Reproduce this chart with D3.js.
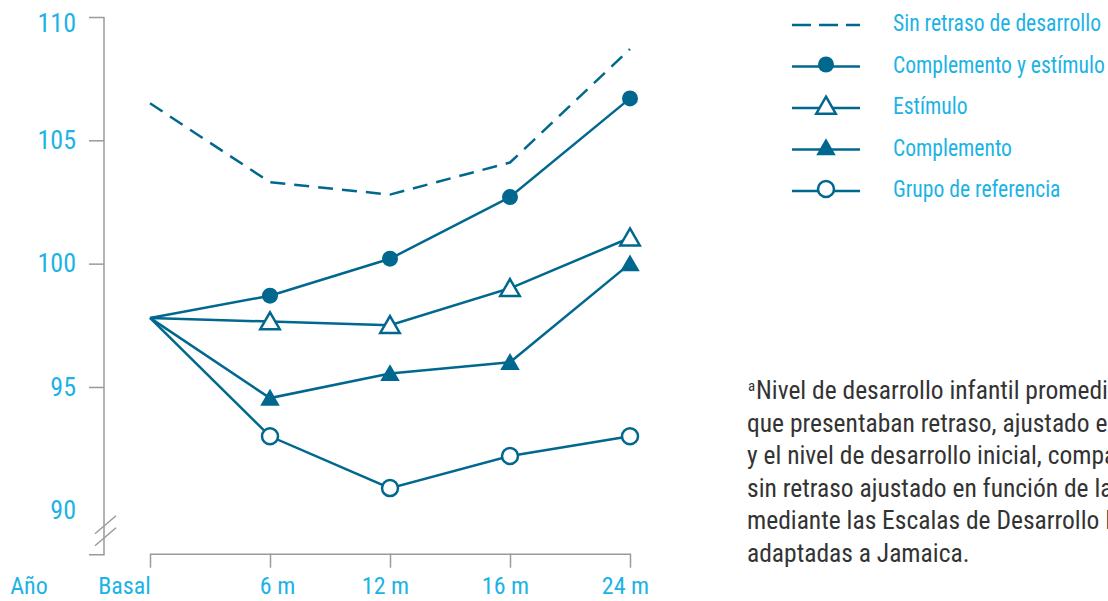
<!DOCTYPE html>
<html>
<head>
<meta charset="utf-8">
<script src="https://cdn.jsdelivr.net/npm/d3@7"></script>
<style>
  html, body { margin: 0; padding: 0; background: #fff; }
  svg { display: block; }
  text { font-family: "Liberation Sans Narrow", "Roboto Condensed", "DejaVu Sans Condensed", sans-serif; }
</style>
</head>
<body>
<div id="chart"></div>
<script>
// periods on the x axis
const periods = ['Basal', '6 m', '12 m', '16 m', '24 m'];

// developmental quotient per group
const sinRetraso = [106.5, 103.3, 102.8, 104.1, 108.7];
const complementoEstimulo = [97.8, 98.7, 100.2, 102.7, 106.7];
const estimulo = [97.8, 97.65, 97.5, 99.0, 101.05];
const complemento = [97.8, 94.55, 95.55, 96.0, 100.0];
const referencia = [97.8, 93.0, 90.9, 92.2, 93.0];

const yTicks = [90, 95, 100, 105, 110];
const yAxisBottom = 88.2; // where the broken axis ends

const footnote = [
  'Nivel de desarrollo infantil promedio de los niños',
  'que presentaban retraso, ajustado en función de la edad',
  'y el nivel de desarrollo inicial, comparado con el de niños',
  'sin retraso ajustado en función de la edad y el sexo,',
  'mediante las Escalas de Desarrollo Mental de Griffiths',
  'adaptadas a Jamaica.'
];

const LINE = '#00688f';
const BLUE = '#1bb3e6';
const GREY = '#9a9a9a';

const width = 1108, height = 601;

const svg = d3.select('#chart').append('svg')
  .attr('width', width)
  .attr('height', height);

const x = d3.scalePoint().domain(periods).range([150, 630]);
const y = d3.scaleLinear().domain([90, 110]).range([510.3, 17]);

// y axis
const yAxis = svg.append('g')
  .attr('transform', 'translate(104,0)')
  .call(d3.axisLeft(y).tickValues(yTicks).tickSize(15).tickPadding(13));
yAxis.select('.domain').remove();
yAxis.selectAll('line').attr('stroke', GREY).attr('stroke-width', 1.5);
yAxis.selectAll('.tick').filter(d => d === 90).select('line').remove();
yAxis.selectAll('text')
  .attr('fill', BLUE)
  .style('font-size', '26px');
yAxis.selectAll('.tick').filter(d => d === 110).select('text').attr('dy', '0.55em');

yAxis.append('path')
  .attr('d', `M0,${y(110)}V${y(yAxisBottom)}H-15`)
  .attr('fill', 'none')
  .attr('stroke', GREY)
  .attr('stroke-width', 1.5);

// axis break marks
[0, 12].forEach(off => {
  yAxis.append('line')
    .attr('x1', -9).attr('y1', y(yAxisBottom) - 21 + off)
    .attr('x2', 12).attr('y2', y(yAxisBottom) - 39 + off)
    .attr('stroke', GREY)
    .attr('stroke-width', 1.5);
});

// x axis
const xAxis = svg.append('g')
  .attr('transform', `translate(0,${y(yAxisBottom) - 1})`)
  .call(d3.axisBottom(x).tickSize(14).tickSizeOuter(0).tickPadding(9));
xAxis.select('.domain').attr('stroke', GREY).attr('stroke-width', 1.5);
xAxis.selectAll('line').attr('stroke', GREY).attr('stroke-width', 1.5);
xAxis.selectAll('text')
  .attr('fill', BLUE)
  .style('font-size', '24px')
  .attr('dx', d => d === 'Basal' ? -26 : (d === '6 m' ? 7 : -5));

svg.append('text')
  .attr('x', 29).attr('y', 594)
  .attr('text-anchor', 'middle')
  .attr('fill', BLUE)
  .style('font-size', '24px')
  .text('Año');

// series
const series = [
  { name: 'Sin retraso de desarrollo', values: sinRetraso, marker: 'none', dash: '15,9' },
  { name: 'Complemento y estímulo', values: complementoEstimulo, marker: 'dot' },
  { name: 'Estímulo', values: estimulo, marker: 'triOpen' },
  { name: 'Complemento', values: complemento, marker: 'tri' },
  { name: 'Grupo de referencia', values: referencia, marker: 'dotOpen' }
];

const line = d3.line()
  .x((d, i) => x(periods[i]))
  .y(d => y(d));

function drawMarker(g, type, cx, cy) {
  if (type === 'dot' || type === 'dotOpen') {
    g.append('circle')
      .attr('cx', cx).attr('cy', cy).attr('r', 8)
      .attr('fill', type === 'dot' ? LINE : '#fff')
      .attr('stroke', LINE)
      .attr('stroke-width', type === 'dot' ? 0 : 2.5);
  } else if (type === 'tri' || type === 'triOpen') {
    g.append('path')
      .attr('d', d3.symbol(d3.symbolTriangle, 165)())
      .attr('transform', `translate(${cx},${cy + 2})`)
      .attr('fill', type === 'tri' ? LINE : '#fff')
      .attr('stroke', LINE)
      .attr('stroke-width', type === 'tri' ? 0 : 2.5);
  }
}

const plot = svg.append('g');
series.forEach(s => {
  plot.append('path')
    .datum(s.values)
    .attr('d', line)
    .attr('fill', 'none')
    .attr('stroke', LINE)
    .attr('stroke-width', 2.5)
    .attr('stroke-dasharray', s.dash || null);
});
series.forEach(s => {
  s.values.forEach((v, i) => {
    if (i === 0) return; // basal is a shared starting point, no marker
    drawMarker(plot, s.marker, x(periods[i]), y(v));
  });
});

// legend
const legend = svg.append('g').attr('transform', 'translate(792,25)');
series.forEach((s, i) => {
  const row = legend.append('g').attr('transform', `translate(0,${i * 41.5})`);
  row.append('line')
    .attr('x1', 0).attr('x2', 68)
    .attr('stroke', LINE)
    .attr('stroke-width', 2.5)
    .attr('stroke-dasharray', s.dash ? '19,8' : null);
  drawMarker(row, s.marker, 34, -2);
  row.append('g')
    .attr('transform', 'translate(101,-2) scale(0.9,1)')
    .append('text')
    .attr('dy', '0.35em')
    .attr('fill', BLUE)
    .style('font-size', '24px')
    .text(s.name);
});

// footnote
const note = svg.append('text')
  .attr('fill', '#333')
  .style('font-size', '25.5px');
footnote.forEach((t, i) => {
  if (i === 0) {
    note.append('tspan')
      .attr('x', 748).attr('y', 399 - 8)
      .style('font-size', '15px')
      .text('a');
    note.append('tspan')
      .attr('x', 756).attr('y', 399)
      .text(t);
  } else {
    note.append('tspan')
      .attr('x', 747).attr('y', 399 + i * 32.6)
      .text(t);
  }
});
</script>
</body>
</html>
